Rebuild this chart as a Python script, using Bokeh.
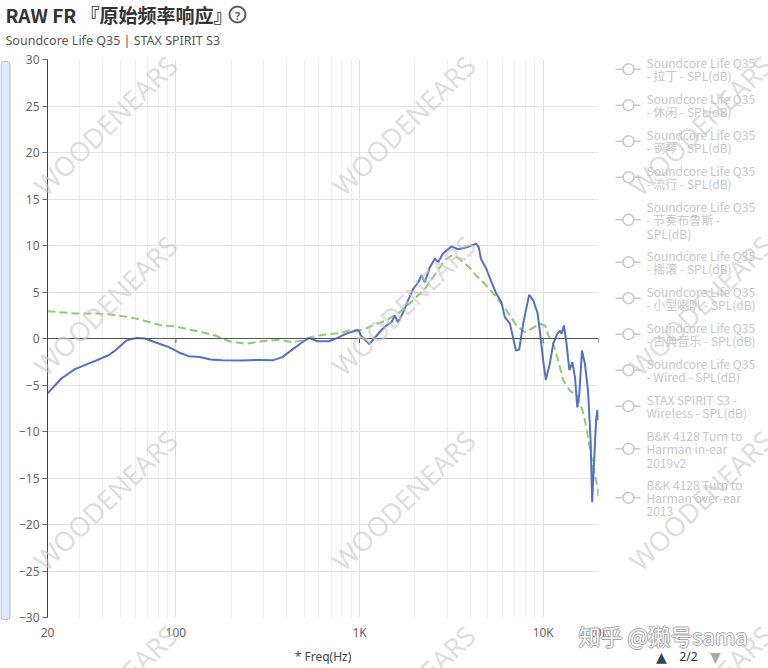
from bokeh.plotting import figure
from bokeh.models import Span, FixedTicker, Range1d
from bokeh.layouts import column
from bokeh.core.properties import value
from bokeh.embed import file_html
from bokeh.resources import INLINE

# ---- measured frequency responses (Hz, dB) ----
q35_freq = [20, 23.8, 28.2, 33.4, 38.6, 42.9, 46.7, 54, 61, 68, 77, 91, 104, 117, 135, 154,
            179, 230, 283, 336, 380, 430, 488, 530, 590, 683, 758, 842, 956, 990, 1018, 1080,
            1130, 1202, 1308, 1398, 1492, 1560, 1618, 1728, 1836, 1958, 2090, 2174, 2266, 2416,
            2570, 2680, 2840, 3160, 3430, 3650, 3960, 4310, 4460, 4580, 4900, 5230, 5560, 5920,
            6180, 6590, 6870, 7100, 7400, 7780, 8120, 8390, 8820, 9300, 9580, 10000, 10340,
            10860, 11340, 11920, 12320, 12580, 12960, 13400, 13880, 14420, 14900, 15340, 15720,
            16260, 16860, 17540, 18120, 18480, 18860, 19400, 19700, 20000]
q35_db = [-5.9, -4.3, -3.3, -2.7, -2.2, -1.8, -1.3, -0.2, 0.05, 0.0, -0.4, -0.9, -1.5, -1.9, -2.0,
          -2.25, -2.35, -2.37, -2.3, -2.35, -2.0, -1.2, -0.4, 0.07, -0.3, -0.3, 0.07, 0.5, 0.86,
          0.86, 0.3, -0.2, -0.6, 0.0, 0.86, 1.4, 1.75, 2.47, 1.75, 2.8, 4.1, 5.3, 6.05, 6.8, 6.05,
          7.67, 8.57, 8.2, 9.1, 9.9, 9.6, 9.7, 9.9, 10.2, 9.8, 8.57, 7.5, 6.05, 4.8, 3.9, 2.3,
          1.6, 0.0, -1.3, -1.2, 1.6, 3.4, 4.7, 4.1, 2.8, 0.86, -2.4, -4.45, -2.7, -0.57, 0.5,
          0.86, 0.5, 1.4, -0.57, -3.4, -2.55, -4.2, -7.4, -5.95, -1.3, -2.7, -5.6, -11.0, -17.6,
          -13.8, -8.8, -7.7, -8.8]

target_freq = [20, 28, 36, 43, 55.5, 65, 77, 84, 99, 117, 139, 164, 195, 240, 294, 364, 430,
               488, 555, 653, 774, 878, 1042, 1176, 1398, 1650, 1958, 2300, 2620, 2900, 3160,
               3430, 3650, 3960, 4310, 4900, 5560, 6320, 7150, 7940, 8620, 9580, 10220, 10660,
               11260, 12080, 12840, 14000, 15240, 16600, 17540, 18680, 19900, 20000]
target_db = [2.94, 2.7, 2.7, 2.6, 2.3, 2.0, 1.58, 1.4, 1.32, 0.97, 0.68, 0.32, -0.3, -0.57, -0.3,
             -0.14, -0.4, -0.2, 0.2, 0.43, 0.57, 0.86, 0.93, 1.4, 1.94, 2.83, 4.1, 5.5, 7.1, 8.4,
             8.9, 8.7, 8.2, 7.67, 6.77, 5.7, 4.44, 3.0, 1.4, 0.68, 1.04, 1.58, 1.4, 0.32, -0.4,
             -2.37, -4.5, -5.6, -6.13, -8.1, -10.6, -13.8, -16.3, -17.4]

x_major = [20, 100, 1000, 10000, 20000]
x_major_text = ["20", "100", "1K", "10K", "20K"]
x_minor = [30, 40, 50, 60, 70, 80, 90, 200, 300, 400, 500, 600, 700, 800, 900,
           2000, 3000, 4000, 5000, 6000, 7000, 8000, 9000]
y_ticks = list(range(-30, 31, 5))

title_text = "RAW FR 『原始频率响应』"
subtitle_text = "Soundcore Life Q35 | STAX SPIRIT S3"
legend_entries = [
    ["Soundcore Life Q35", "- 拉丁 - SPL(dB)"],
    ["Soundcore Life Q35", "- 休闲 - SPL(dB)"],
    ["Soundcore Life Q35", "- 钢琴 - SPL(dB)"],
    ["Soundcore Life Q35", "- 流行 - SPL(dB)"],
    ["Soundcore Life Q35", "- 节奏布鲁斯 -", "SPL(dB)"],
    ["Soundcore Life Q35", "- 摇滚 - SPL(dB)"],
    ["Soundcore Life Q35", "- 小型喇叭 - SPL(dB)"],
    ["Soundcore Life Q35", "- 古典音乐 - SPL(dB)"],
    ["Soundcore Life Q35", "- Wired - SPL(dB)"],
    ["STAX SPIRIT S3 -", "Wireless - SPL(dB)"],
    ["B&K 4128 Turn to", "Harman in-ear", "2019v2"],
    ["B&K 4128 Turn to", "Harman over-ear", "2013"],
]

SANS = "Noto Sans"
CJK = "Noto Sans CJK SC"
W, H = 768, 668

# ---------------- main chart ----------------
p = figure(width=W, height=H, x_axis_type="log", x_range=(20, 20000), y_range=(-30, 30),
           output_backend="svg", toolbar_location=None, frame_align=False,
           min_border_left=47, min_border_right=170, min_border_top=59, min_border_bottom=51)
p.outline_line_color = None

p.xaxis.ticker = FixedTicker(ticks=x_major, minor_ticks=x_minor)
p.xaxis.major_label_overrides = dict(zip(x_major, x_major_text))
p.xaxis.axis_line_color = None
p.xaxis.major_tick_line_color = None
p.xaxis.minor_tick_line_color = None
p.xaxis.major_tick_out = 0
p.xaxis.major_tick_in = 0
p.xaxis.minor_tick_out = 0
p.xaxis.major_label_standoff = 6
p.xaxis.major_label_text_font = SANS
p.xaxis.major_label_text_font_size = "12px"
p.xaxis.major_label_text_color = "#666666"
p.xaxis.axis_label = "* Freq(Hz)"
p.xaxis.axis_label_text_font = SANS
p.xaxis.axis_label_text_font_size = "12px"
p.xaxis.axis_label_text_font_style = "normal"
p.xaxis.axis_label_text_color = "#444444"
p.xaxis.axis_label_standoff = 4

p.yaxis.ticker = FixedTicker(ticks=y_ticks)
p.yaxis.axis_line_color = "#444444"
p.yaxis.major_tick_line_color = "#666666"
p.yaxis.major_tick_out = 5
p.yaxis.major_tick_in = 0
p.yaxis.minor_tick_line_color = None
p.yaxis.major_label_standoff = 3
p.yaxis.major_label_text_font = SANS
p.yaxis.major_label_text_font_size = "12px"
p.yaxis.major_label_text_color = "#666666"

p.xgrid.grid_line_color = "#dedede"
p.xgrid.minor_grid_line_color = "#efefef"
p.ygrid.grid_line_color = "#e3e3e3"

# zero axis line with its ticks
p.add_layout(Span(location=0, dimension="width", line_color="#555555", line_width=1))
p.segment(x0=x_major[1:], y0=[0] * 4, x1=x_major[1:], y1=[-0.5] * 4,
          line_color="#555555", line_width=1)

p.line(target_freq, target_db, line_color="#91cc75", line_width=2, line_dash="8 4")
p.line(q35_freq, q35_db, line_color="#5470c6", line_width=2)

# ---------------- decoration layer (pixel coordinates, y downwards) ----------------
o = figure(width=W, height=H, x_range=Range1d(0, W), y_range=Range1d(H, 0),
           output_backend="svg", toolbar_location=None, min_border=0, frame_align=False,
           x_axis_location=None, y_axis_location=None,
           styles={"position": "absolute", "left": "0px", "top": "0px"})
o.grid.visible = False
o.outline_line_color = None
o.background_fill_alpha = 0
o.border_fill_alpha = 0

# watermark grid
wx, wy = [], []
for cx in (105, 403, 700):
    for cy in (125, 305, 500, 695):
        wx.append(cx)
        wy.append(cy)
o.text(x=wx, y=wy, text=["WOODENEARS"] * len(wx), angle=0.77, text_align="center",
       text_baseline="middle", text_font=value(SANS), text_font_size="27px",
       text_color="#c8c8c8", text_alpha=0.6)

# title block
o.text(x=[5], y=[14], text=[title_text], text_font=value(CJK), text_font_size="19px",
       text_font_style="bold", text_color="#333333", text_baseline="middle")
o.scatter(x=[237], y=[14], size=16, marker="circle", fill_color=None,
          line_color="#5a5a5a", line_width=2)
o.text(x=[237], y=[14.5], text=["?"], text_font=value(SANS), text_font_size="11px",
       text_font_style="bold", text_color="#5a5a5a", text_align="center",
       text_baseline="middle")
o.text(x=[5], y=[40], text=[subtitle_text], text_font=value(SANS), text_font_size="12.5px",
       text_color="#555555", text_baseline="middle")

# range slider at left
o.quad(left=[0.5], right=[9.5], top=[61], bottom=[619], fill_color="#dfe7f8",
       line_color="#a9bde8", line_width=1, border_radius=3)

# legend (page 2/2, all entries switched off)
LEG = "#c8c8c8"
ly = 62
icon_y, text_y, texts = [], [], []
for lines in legend_entries:
    n = len(lines)
    icon_y.append(ly + (n - 1) * 13.3 / 2)
    for i, t in enumerate(lines):
        text_y.append(ly + i * 13.3)
        texts.append(t)
    ly += 36 if n == 2 else 49
o.segment(x0=[615] * len(icon_y), x1=[640] * len(icon_y), y0=icon_y, y1=icon_y,
          line_color=LEG, line_width=1.5)
o.scatter(x=[628] * len(icon_y), y=icon_y, size=11, marker="circle", fill_color="white",
          line_color=LEG, line_width=1.5)
o.text(x=[646] * len(texts), y=text_y, text=texts, text_font=value(CJK),
       text_font_size="12px", text_color=LEG, text_baseline="middle")

# legend pager
o.text(x=[661], y=[656], text=["▲"], text_font=value("DejaVu Sans"), text_font_size="14px",
       text_color="#2f4554", text_align="center", text_baseline="middle")
o.text(x=[688], y=[656], text=["2/2"], text_font=value(SANS), text_font_size="12px",
       text_color="#333333", text_align="center", text_baseline="middle")
o.text(x=[715], y=[656], text=["▼"], text_font=value("DejaVu Sans"), text_font_size="14px",
       text_color="#aaaaaa", text_align="center", text_baseline="middle")

# site watermark, outlined text
wm = "知乎 @獭号sama"
for dx, dy in [(-1, 0), (1, 0), (0, -1), (0, 1)]:
    o.text(x=[578 + dx], y=[634 + dy], text=[wm], text_font=value(CJK), text_font_size="22px",
           text_color="#a8a8a8", text_baseline="middle")
o.text(x=[578], y=[634], text=[wm], text_font=value(CJK), text_font_size="22px",
       text_color="#f6f6f6", text_baseline="middle")

page = column(p, o, styles={"position": "relative"})
open("out.html", "w").write(file_html(page, INLINE))
